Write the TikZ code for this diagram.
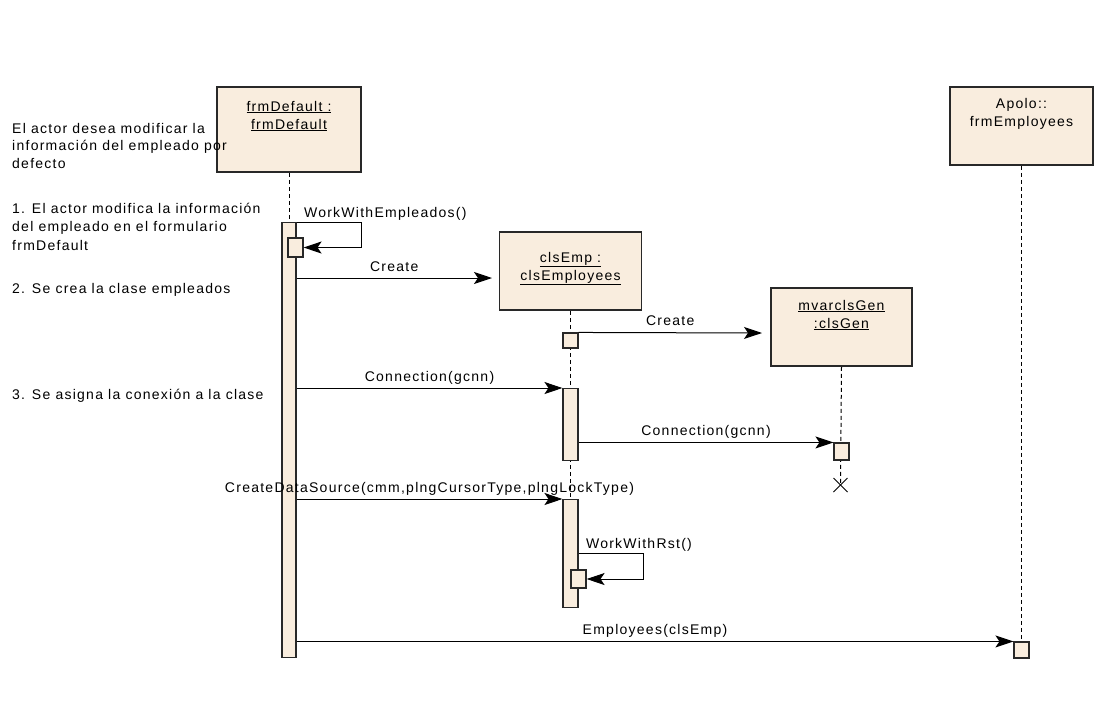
\documentclass[tikz,border=0pt]{standalone}
\usepackage{fontspec}
\setmainfont{Liberation Sans}[LetterSpace=9]
\usetikzlibrary{arrows.meta,calc,backgrounds}
\definecolor{boxfill}{RGB}{249,237,222}
\definecolor{boxline}{RGB}{40,40,40}

\begin{document}
\begin{tikzpicture}[x=1pt,y=-1pt,
  font=\fontsize{14}{16}\selectfont,
  obj/.style={draw=boxline, fill=boxfill, line width=1.5pt, inner sep=0pt},
  act/.style={draw=boxline, fill=boxfill, line width=1.1pt, inner sep=0pt, minimum width=15pt},
  life/.style={line width=1pt, dash pattern=on 4pt off 3pt},
  msg/.style={line width=1pt, -{Stealth[length=18pt,width=12pt,inset=4pt]}},
  lbl/.style={anchor=base, inner sep=0pt, yshift=7pt},
  note/.style={anchor=base west, inner sep=0pt}]
\useasboundingbox (0,0) rectangle (1109,705);

% objects
\node[obj, minimum width=144pt, minimum height=85pt] (frm) at (289,129.5) {};
\node[obj, minimum width=142pt, minimum height=78pt] (emp) at (570.5,271) {};
\node[obj, minimum width=141pt, minimum height=78pt] (gen) at (841.5,327) {};
\node[obj, minimum width=143pt, minimum height=78pt] (apo) at (1021.5,126) {};

\node[anchor=base] (frm1) at (289,111) {\underline{frmDefault :}};
\node[anchor=base] (frm2) at (289,129) {\underline{frmDefault}};
\node[anchor=base] (emp1) at (570.5,262) {\underline{clsEmp :}};
\node[anchor=base] (emp2) at (570.5,280) {\underline{clsEmployees}};
\node[anchor=base] (gen1) at (841.5,310) {\underline{mvarclsGen}};
\node[anchor=base] (gen2) at (841.5,328) {\underline{:clsGen}};
\node[anchor=base] (apo1) at (1021.5,108) {Apolo::};
\node[anchor=base] (apo2) at (1021.5,126) {frmEmployees};

% notes on the left
\node[note] (n1) at (12,133) {El actor desea modificar la};
\node[note] (n2) at (12,150.5) {información del empleado por};
\node[note] (n3) at (12,168) {defecto};
\node[note] (n4) at (12,213) {1. El actor modifica la información};
\node[note] (n5) at (12,231.5) {del empleado en el formulario};
\node[note] (n6) at (12,250) {frmDefault};
\node[note] (n7) at (12,293) {2. Se crea la clase empleados};
\node[note] (n8) at (12,399) {3. Se asigna la conexión a la clase};

% activations
\node[act, minimum width=14pt, minimum height=435pt, anchor=north] (a1) at (289,222) {};
\node[act, minimum height=19pt] (s1) at (295.5,247.5) {};
\node[act, minimum height=15pt] (e1) at (570.5,340.5) {};
\node[act, minimum height=72pt, anchor=north] (b2) at (570.5,388) {};
\node[act, minimum height=108pt, anchor=north] (b3) at (570.5,499) {};
\node[act, minimum height=18pt] (s2) at (578.5,579) {};
\node[act, minimum height=17pt] (g1) at (841.5,451.5) {};
\node[act, minimum height=16pt] (p1) at (1021.5,650) {};

\coordinate (m2) at (492,278);
\coordinate (m3) at (762,333);
\coordinate (x1) at (840.5,485);

% messages
\draw[msg] (a1.north east) -- node[pos=0, anchor=base west, inner sep=0pt, xshift=7pt, yshift=5pt] (l1) {WorkWithEmpleados()} ++(65,0) |- (s1.east);
\draw[msg] (a1.east |- m2) -- node[lbl] (l2) {Create} (m2);
\draw[msg] (e1.north east) -- node[lbl] (l3) {Create} (m3);
\draw[msg] (a1.east |- b2.north west) -- node[lbl] (l4) {Connection(gcnn)} (b2.north west);
\draw[msg] (b2.east |- g1.north west) -- node[lbl] (l5) {Connection(gcnn)} (g1.north west);
\draw[msg] (a1.east |- b3.north west) -- node[lbl] (l6) {CreateDataSource(cmm,plngCursorType,plngLockType)} (b3.north west);
\draw[msg] (b3.east) -- node[pos=0, anchor=base west, inner sep=0pt, xshift=7pt, yshift=5pt] (l7) {WorkWithRst()} ++(65,0) |- (s2.east);
\draw[msg] (a1.east |- p1.north west) -- node[lbl] (l8) {Employees(clsEmp)} (p1.north west);

% destroy mark
\draw[line width=1pt] ($(x1)+(-7,-7)$) -- ($(x1)+(7,7)$);
\draw[line width=1pt] ($(x1)+(-7,7)$) -- ($(x1)+(7,-7)$);

% lifelines
\begin{scope}[on background layer]
\draw[life] (frm.south) -- (a1.north);
\draw[life] (emp.south) -- (b3.south);
\draw[life] (gen.south) -- (x1);
\draw[life] (apo.south) -- (p1.north);
\end{scope}
\end{tikzpicture}
\end{document}
